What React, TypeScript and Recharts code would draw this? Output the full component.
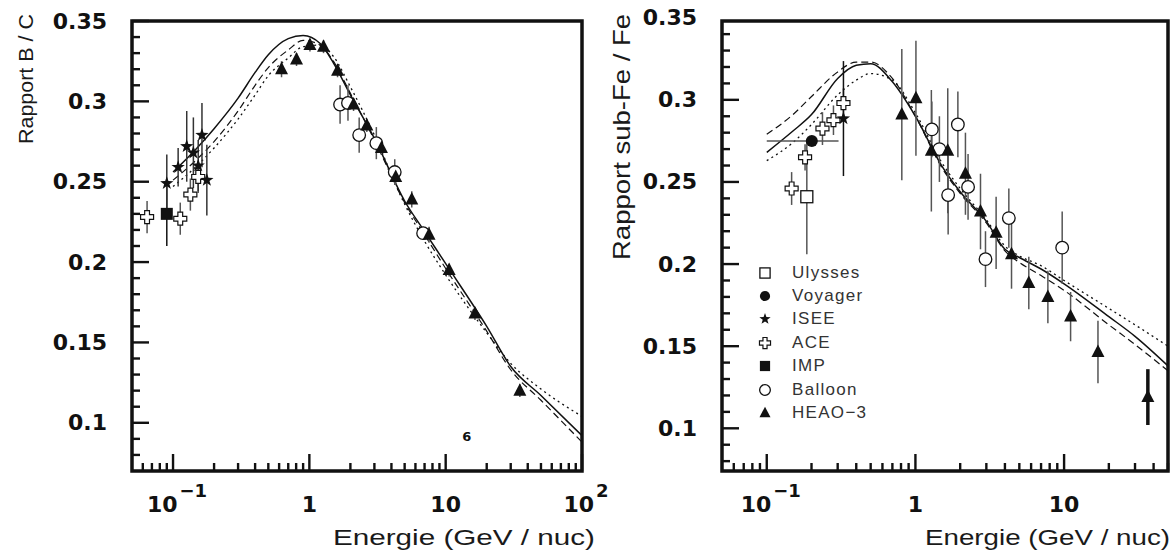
import React from 'react'
import {
  ComposedChart,
  Line,
  Scatter,
  XAxis,
  YAxis,
  ErrorBar,
  ReferenceArea,
  ReferenceDot,
} from 'recharts'

// ---------- panel 1 : B / C ----------
const bcModelE = [0.1, 0.15, 0.2, 0.3, 0.4, 0.5, 0.7, 0.9, 1.2, 1.5, 2, 3, 5, 7, 10, 20, 30, 50, 100]
const bcSolid = [0.256, 0.271, 0.283, 0.302, 0.318, 0.329, 0.339, 0.341, 0.336, 0.324, 0.304, 0.277, 0.238, 0.219, 0.199, 0.16, 0.135, 0.117, 0.092]
const bcDashed = [0.251, 0.264, 0.275, 0.294, 0.31, 0.321, 0.332, 0.338, 0.335, 0.325, 0.305, 0.276, 0.237, 0.217, 0.196, 0.157, 0.133, 0.114, 0.088]
const bcDotted = [0.247, 0.26, 0.271, 0.289, 0.304, 0.316, 0.327, 0.334, 0.335, 0.328, 0.309, 0.279, 0.236, 0.213, 0.192, 0.156, 0.137, 0.121, 0.104]

const bcHeaoE = [0.625, 0.805, 1.01, 1.27, 1.61, 2.11, 2.64, 3.38, 4.3, 5.64, 7.55, 10.6, 16.4, 35]
const bcHeaoV = [0.32, 0.326, 0.335, 0.334, 0.319, 0.298, 0.285, 0.271, 0.253, 0.239, 0.217, 0.195, 0.168, 0.12]
const bcHeaoErr = [0.005, 0.004, 0.004, 0.004, 0.004, 0.004, 0.004, 0.004, 0.005, 0.005, 0.005, 0.004, 0.004, 0.004]

const bcBalloonE = [1.68, 1.92, 2.32, 3.1, 4.23, 6.83]
const bcBalloonV = [0.298, 0.299, 0.279, 0.274, 0.256, 0.218]
const bcBalloonErr = [0.012, 0.011, 0.011, 0.01, 0.008, 0.004]

const bcIseeE = [0.09, 0.109, 0.126, 0.141, 0.153, 0.163, 0.177]
const bcIseeV = [0.249, 0.259, 0.272, 0.268, 0.26, 0.279, 0.251]
const bcIseeErr = [0.018, 0.012, 0.022, 0.022, 0.016, 0.02, 0.022]

const bcAceE = [0.0645, 0.113, 0.134, 0.153]
const bcAceV = [0.228, 0.227, 0.242, 0.253]
const bcAceErr = [0.01, 0.01, 0.01, 0.01]

const bcImpE = [0.09]
const bcImpV = [0.23]
const bcImpErr = [0.02]

// ---------- panel 2 : sub-Fe / Fe ----------
const sfModelE = [0.1, 0.15, 0.2, 0.3, 0.4, 0.5, 0.7, 1, 1.5, 2, 3, 4, 5, 7, 10, 20, 30, 50]
const sfSolid = [0.268, 0.281, 0.291, 0.313, 0.321, 0.322, 0.311, 0.29, 0.26, 0.244, 0.226, 0.209, 0.204, 0.197, 0.188, 0.168, 0.156, 0.138]
const sfDashed = [0.279, 0.291, 0.302, 0.317, 0.323, 0.323, 0.313, 0.29, 0.259, 0.243, 0.225, 0.208, 0.201, 0.193, 0.184, 0.163, 0.151, 0.135]
const sfDotted = [0.263, 0.274, 0.285, 0.303, 0.312, 0.316, 0.312, 0.292, 0.262, 0.246, 0.227, 0.211, 0.205, 0.199, 0.19, 0.173, 0.163, 0.15]

const sfHeaoE = [0.81, 1.008, 1.28, 1.65, 2.17, 2.74, 3.49, 4.43, 5.79, 7.78, 11.06, 16.9]
const sfHeaoV = [0.291, 0.301, 0.269, 0.269, 0.255, 0.232, 0.219, 0.206, 0.1885, 0.18, 0.168, 0.1465]
const sfHeaoErr = [0.04, 0.035, 0.037, 0.038, 0.025, 0.023, 0.022, 0.021, 0.016, 0.016, 0.015, 0.019]

const sfHeaoHighE = [36.6]
const sfHeaoHighV = [0.119]
const sfHeaoHighErr = [0.017]

const sfBalloonE = [1.29, 1.45, 1.66, 1.93, 2.26, 2.96, 4.25, 9.71]
const sfBalloonV = [0.282, 0.27, 0.242, 0.285, 0.247, 0.203, 0.228, 0.21]
const sfBalloonErr = [0.017, 0.02, 0.024, 0.02, 0.02, 0.017, 0.018, 0.022]

const sfAceE = [0.147, 0.181, 0.237, 0.281, 0.328]
const sfAceV = [0.246, 0.265, 0.2825, 0.2876, 0.298]
const sfAceErr = [0.01, 0.008, 0.01, 0.009, 0.009]

const sfIseeE = [0.328]
const sfIseeV = [0.2886]
const sfIseeErr = [0.035]

const sfVoyagerE = [0.201]
const sfVoyagerV = [0.275]
const sfVoyagerXErr = [[0.101, 0.103]]

const sfUlyssesE = [0.186]
const sfUlyssesV = [0.241]
const sfUlyssesErr = [0.035]

// ---------- axes ----------
const bcXDomain = [0.05, 100]
const sfXDomain = [0.05, 50]
const bcYDomain = [0.07, 0.35]
const sfYDomain = [0.074, 0.348]
const xMajor = [0.1, 1, 10, 100]
const xMajorBase = ['10', '1', '10', '10']
const xMajorExp = ['\u22121', '', '', '2']
const yLabels = [0.1, 0.15, 0.2, 0.25, 0.3, 0.35]

const legendNames = ['Ulysses', 'Voyager', 'ISEE', 'ACE', 'IMP', 'Balloon', 'HEAO\u22123']

const INK = '#111'
const BAR = '#555'

const zip = (xs: number[], ys: number[], es: number[]) => xs.map((x, i) => ({ x, y: ys[i], err: es[i] }))
const curve = (xs: number[], ys: number[]) => xs.map((x, i) => ({ x, y: ys[i] }))

function logTicks(lo: number, hi: number) {
  const out: number[] = []
  for (let k = -2; k <= 2; k++) {
    for (let m = 1; m <= 9; m++) {
      const v = +(m * Math.pow(10, k)).toPrecision(3)
      if (v > lo * 1.0001 && v <= hi * 1.0001) out.push(v)
    }
  }
  return out
}
function linTicks(lo: number, hi: number) {
  const out: number[] = []
  for (let i = 7; i <= 35; i++) {
    const v = i / 100
    if (v > lo + 1e-6 && (v <= hi + 1e-6 || yLabels.includes(v))) out.push(v)
  }
  return out
}

// ---------- markers ----------
function Tri({ cx, cy, s = 1 }: any) {
  return <polygon points={`${cx},${cy - 7.5 * s} ${cx - 6.5 * s},${cy + 5 * s} ${cx + 6.5 * s},${cy + 5 * s}`} fill={INK} />
}
function OpenCircle({ cx, cy, s = 1 }: any) {
  return <circle cx={cx} cy={cy} r={6.3 * s} fill="#fff" stroke={INK} strokeWidth={1.3} />
}
function Dot({ cx, cy, s = 1 }: any) {
  return <circle cx={cx} cy={cy} r={6 * s} fill={INK} />
}
function OpenSquare({ cx, cy, s = 1 }: any) {
  const h = 6 * s
  return <rect x={cx - h} y={cy - h} width={2 * h} height={2 * h} fill="#fff" stroke={INK} strokeWidth={1.3} />
}
function FilledSquare({ cx, cy, s = 1 }: any) {
  const h = 6 * s
  return <rect x={cx - h} y={cy - h} width={2 * h} height={2 * h} fill={INK} />
}
function Star({ cx, cy, s = 1 }: any) {
  const pts: string[] = []
  for (let i = 0; i < 10; i++) {
    const r = (i % 2 === 0 ? 7 : 2.8) * s
    const a = -Math.PI / 2 + (i * Math.PI) / 5
    pts.push(`${cx + r * Math.cos(a)},${cy + r * Math.sin(a)}`)
  }
  return <polygon points={pts.join(' ')} fill={INK} />
}
function Plus({ cx, cy, s = 1 }: any) {
  const a = 6.5 * s
  const w = 2.4 * s
  const p = [[-w, -a], [w, -a], [w, -w], [a, -w], [a, w], [w, w], [w, a], [-w, a], [-w, w], [-a, w], [-a, -w], [-w, -w]]
  return <polygon points={p.map(([x, y]) => `${cx + x},${cy + y}`).join(' ')} fill="#fff" stroke={INK} strokeWidth={1.2} />
}
const legendShapes = [OpenSquare, Dot, Star, Plus, FilledSquare, OpenCircle, Tri]

// ---------- ticks ----------
function XTick({ x, y, payload }: any) {
  const v = payload.value
  const idx = xMajor.findIndex((m) => Math.abs(m - v) / m < 1e-6)
  const major = idx >= 0
  return (
    <g>
      <line x1={x} y1={y} x2={x} y2={y - (major ? 17 : 8)} stroke={INK} strokeWidth={2.4} />
      {major && (
        <text
          x={x + (xMajorExp[idx] ? 4 : 0)}
          y={y + 41}
          textAnchor="middle"
          fontFamily="DejaVu Sans"
          fontWeight="bold"
          fontSize={22}
          fill={INK}
        >
          {xMajorBase[idx]}
          {xMajorExp[idx] && (
            <tspan fontSize={18} dy={-15} dx={2}>
              {xMajorExp[idx]}
            </tspan>
          )}
        </text>
      )}
    </g>
  )
}

function makeYTick(domainMax: number) {
  return function YTick({ x, y, payload }: any) {
    const v = payload.value
    const major = Math.abs(v * 20 - Math.round(v * 20)) < 1e-6
    return (
      <g>
        {v <= domainMax + 1e-6 && (
          <line x1={x} y1={y} x2={x + (major ? 17 : 8)} y2={y} stroke={INK} strokeWidth={2.4} />
        )}
        {major && (
          <text
            x={x - 25}
            y={y}
            textAnchor="end"
            dominantBaseline="central"
            fontFamily="DejaVu Sans"
            fontWeight="bold"
            fontSize={22}
            fill={INK}
          >
            {String(Math.round(v * 100) / 100)}
          </text>
        )}
      </g>
    )
  }
}

function Panel({
  xDomain,
  yDomain,
  plotLeft,
  plotRight,
  width,
  yTitle,
  yTitleX,
  yTitleY,
  yTitleSize,
  yTitleLen,
  xTitleEnd,
  xTitleLen,
  children,
}: any) {
  return (
    <ComposedChart width={width} height={550} margin={{ top: 21, right: width - plotRight, bottom: 0, left: 0 }}>
      <XAxis
        dataKey="x"
        type="number"
        scale="log"
        domain={xDomain}
        allowDataOverflow
        ticks={logTicks(xDomain[0], xDomain[1])}
        interval={0}
        tickSize={0}
        tickMargin={0}
        tickLine={false}
        axisLine={false}
        height={79}
        tick={<XTick />}
        label={{
          content: () => (
            <text
              x={xTitleEnd}
              y={545}
              textAnchor="end"
              fontFamily="Liberation Sans"
              fontWeight="normal"
              fontSize={22}
              fill="#1a1a1a"
              textLength={xTitleLen}
              lengthAdjust="spacingAndGlyphs"
            >
              Energie (GeV / nuc)
            </text>
          ),
        }}
      />
      <YAxis
        dataKey="y"
        type="number"
        domain={yDomain}
        allowDataOverflow
        ticks={linTicks(yDomain[0], yDomain[1])}
        interval={0}
        tickSize={0}
        tickMargin={0}
        tickLine={false}
        axisLine={false}
        width={plotLeft}
        tick={makeYTick(yDomain[1])}
        label={{
          content: () => (
            <text
              x={yTitleX}
              y={yTitleY}
              transform={`rotate(-90 ${yTitleX} ${yTitleY})`}
              textAnchor="middle"
              dominantBaseline="central"
              fontFamily="Liberation Sans"
              fontWeight="normal"
              fontSize={yTitleSize}
              fill="#1a1a1a"
              textLength={yTitleLen}
              lengthAdjust="spacingAndGlyphs"
            >
              {yTitle}
            </text>
          ),
        }}
      />
      <ReferenceArea
        x1={xDomain[0]}
        x2={xDomain[1]}
        y1={yDomain[0]}
        y2={yDomain[1]}
        fill="none"
        fillOpacity={0}
        stroke={INK}
        strokeWidth={3.5}
      />
      {children}
    </ComposedChart>
  )
}

function modelLines(e: number[], solid: number[], dashed: number[], dotted: number[]) {
  return [
    <Line key="dot" data={curve(e, dotted)} dataKey="y" type="monotone" stroke={INK} strokeWidth={1.3} strokeDasharray="2 3.5" dot={false} isAnimationActive={false} />,
    <Line key="dash" data={curve(e, dashed)} dataKey="y" type="monotone" stroke={INK} strokeWidth={1.2} strokeDasharray="7 4" dot={false} isAnimationActive={false} />,
    <Line key="solid" data={curve(e, solid)} dataKey="y" type="monotone" stroke={INK} strokeWidth={1.5} dot={false} isAnimationActive={false} />,
  ]
}

function points(key: string, data: any[], Shape: any, barColor = BAR, barWidth = 1.5) {
  return (
    <Scatter key={key} data={data} dataKey="y" shape={(p: any) => <Shape cx={p.cx} cy={p.cy} />} isAnimationActive={false}>
      <ErrorBar dataKey="err" direction="y" width={0} stroke={barColor} strokeWidth={barWidth} isAnimationActive={false} />
    </Scatter>
  )
}

export default function App() {
  const voyager = sfVoyagerE.map((x, i) => ({ x, y: sfVoyagerV[i], xerr: sfVoyagerXErr[i] }))
  return (
    <div style={{ position: 'absolute', left: 0, top: 0, width: 1176, height: 550, background: '#fff' }}>
      <div style={{ position: 'absolute', left: 0, top: 0 }}>
        <Panel
          xDomain={bcXDomain}
          yDomain={bcYDomain}
          width={615}
          plotLeft={132}
          plotRight={582}
          yTitle="Rapport B / C"
          yTitleX={25}
          yTitleY={79}
          yTitleSize={21}
          yTitleLen={130}
          xTitleEnd={595}
          xTitleLen={262}
        >
          {modelLines(bcModelE, bcSolid, bcDashed, bcDotted)}
          {points('ace', zip(bcAceE, bcAceV, bcAceErr), Plus)}
          {points('imp', zip(bcImpE, bcImpV, bcImpErr), FilledSquare, INK)}
          {points('isee', zip(bcIseeE, bcIseeV, bcIseeErr), Star, '#333')}
          {points('balloon', zip(bcBalloonE, bcBalloonV, bcBalloonErr), OpenCircle)}
          {points('heao', zip(bcHeaoE, bcHeaoV, bcHeaoErr), Tri)}
          <ReferenceDot
            x={14.3}
            y={0.0915}
            r={0}
            shape={(p: any) => (
              <text x={p.cx} y={p.cy} textAnchor="middle" dominantBaseline="central" fontFamily="DejaVu Sans" fontWeight="bold" fontSize={13} fill={INK}>
                6
              </text>
            )}
          />
        </Panel>
      </div>
      <div style={{ position: 'absolute', left: 600, top: 0 }}>
        <Panel
          xDomain={sfXDomain}
          yDomain={sfYDomain}
          width={576}
          plotLeft={122}
          plotRight={568}
          yTitle="Rapport sub-Fe / Fe"
          yTitleX={21}
          yTitleY={137}
          yTitleSize={24}
          yTitleLen={246}
          xTitleEnd={570}
          xTitleLen={245}
        >
          {modelLines(sfModelE, sfSolid, sfDashed, sfDotted)}
          {points('ulysses', zip(sfUlyssesE, sfUlyssesV, sfUlyssesErr), OpenSquare)}
          <Scatter key="voyager" data={voyager} dataKey="y" shape={(p: any) => <Dot cx={p.cx} cy={p.cy} />} isAnimationActive={false}>
            <ErrorBar dataKey="xerr" direction="x" width={0} stroke={BAR} strokeWidth={1.5} isAnimationActive={false} />
          </Scatter>
          {points('ace', zip(sfAceE, sfAceV, sfAceErr), Plus)}
          {points('isee', zip(sfIseeE, sfIseeV, sfIseeErr), Star, INK)}
          {points('balloon', zip(sfBalloonE, sfBalloonV, sfBalloonErr), OpenCircle)}
          {points('heao', zip(sfHeaoE, sfHeaoV, sfHeaoErr), Tri)}
          {points('heaoHigh', zip(sfHeaoHighE, sfHeaoHighV, sfHeaoHighErr), Tri, INK, 3.5)}
        </Panel>
      </div>
      <div style={{ position: 'absolute', left: 755, top: 261 }}>
        {legendNames.map((name, i) => {
          const Shape = legendShapes[i]
          return (
            <div key={name} style={{ display: 'flex', alignItems: 'center', height: 23.4 }}>
              <svg width={20} height={20} style={{ display: 'block' }}>
                <Shape cx={10} cy={10} s={0.85} />
              </svg>
              <span
                style={{
                  marginLeft: 17,
                  fontFamily: 'Liberation Sans',
                  fontSize: 17,
                  letterSpacing: 1.3,
                  color: '#333',
                  lineHeight: '20px',
                }}
              >
                {name}
              </span>
            </div>
          )
        })}
      </div>
    </div>
  )
}
